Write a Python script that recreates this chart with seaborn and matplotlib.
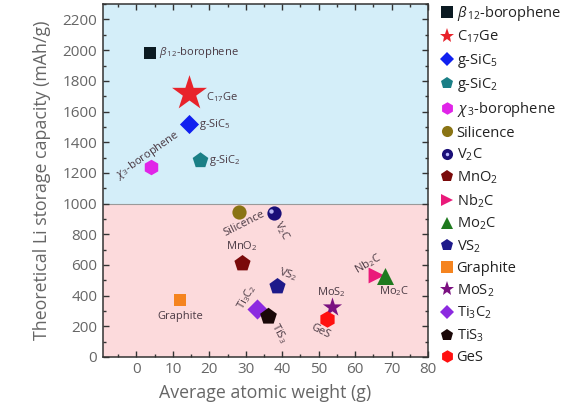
import matplotlib
matplotlib.use("Agg")
import matplotlib.pyplot as plt
import matplotlib.transforms as mtransforms
from matplotlib.lines import Line2D
from matplotlib.legend_handler import HandlerTuple
from matplotlib.ticker import MultipleLocator
import seaborn as sns
import pandas as pd

# Materials: average atomic weight (g) and theoretical Li storage capacity (mAh/g)
names = ["β12-borophene", "C17Ge", "g-SiC5", "g-SiC2", "χ3-borophene", "Silicence",
         "V2C", "MnO2", "Nb2C", "Mo2C", "VS2", "Graphite", "MoS2", "Ti3C2", "TiS3", "GeS"]
legend_labels = [r"$\mathit{\beta}_{\,12}$-borophene", r"C$_{17}$Ge", r"g-SiC$_5$", r"g-SiC$_2$",
                 r"$\mathit{\chi}_{\,3}$-borophene", "Silicence", r"V$_2$C", r"MnO$_2$",
                 r"Nb$_2$C", r"Mo$_2$C", r"VS$_2$", "Graphite", r"MoS$_2$", r"Ti$_3$C$_2$",
                 r"TiS$_3$", "GeS"]
atomic_weight = [3.8, 14.5, 14.4, 17.3, 3.9, 28.0, 37.6, 28.9, 65.7, 68.1, 38.5, 11.9,
                 53.6, 33.2, 36.0, 52.2]
capacity = [1984, 1724, 1516, 1282, 1236, 943, 937, 612, 534, 527, 462, 372,
            325, 312, 267, 247]

markers = ["s", "*", "D", "p", "h", "o", "o", "p", ">", "^", "p", "s", "*", "D", "p", "h"]
colors = ["#0b1a22", "#e8232b", "#1020f0", "#1a7f86", "#e024e8", "#8a7414", "#1a0f78",
          "#7a0a0a", "#ea1a7a", "#1f7a1f", "#1e1a8a", "#f5841f", "#7a1080", "#8c2ae0",
          "#1a0808", "#ff1010"]
sizes = [80, 700, 95, 140, 125, 105, 105, 150, 130, 150, 150, 80, 210, 105, 160, 140]

df = pd.DataFrame({"material": names, "weight": atomic_weight, "capacity": capacity})

sns.set_style("ticks")
plt.rcParams["font.family"] = ["Open Sans", "DejaVu Sans"]
plt.rcParams["mathtext.fontset"] = "custom"
plt.rcParams["mathtext.rm"] = "Open Sans"
plt.rcParams["mathtext.it"] = "Open Sans:italic"

fig = plt.figure(figsize=(5.88, 4.16), dpi=100)
ax = fig.add_axes([0.175, 0.142, 0.553, 0.848])

ax.axhspan(0, 1000, color="#fcdadc", zorder=0, lw=0)
ax.axhspan(1000, 2300, color="#d4eef9", zorder=0, lw=0)
ax.axhline(1000, color="#9a9a9a", lw=0.8, zorder=0.5)

for i, row in df.iterrows():
    sns.scatterplot(x=[row.weight], y=[row.capacity], marker=markers[i], color=colors[i],
                    s=sizes[i], linewidth=0, ax=ax, zorder=3, legend=False)

# specular highlight on the V2C sphere
v = names.index("V2C")
hl = ax.transData + mtransforms.ScaledTranslation(-1.8 / 72, 1.8 / 72, fig.dpi_scale_trans)
ax.scatter([atomic_weight[v]], [capacity[v]], s=10, color="#c8c8ff", alpha=0.9,
           linewidths=0, zorder=4, transform=hl)

ax.set_xlim(-9.2, 80)
ax.set_ylim(0, 2300)
ax.xaxis.set_major_locator(MultipleLocator(10))
ax.xaxis.set_minor_locator(MultipleLocator(5))
ax.yaxis.set_major_locator(MultipleLocator(200))
ax.yaxis.set_minor_locator(MultipleLocator(100))
ax.tick_params(which="both", direction="in", top=True, right=True, color="#333333",
               labelcolor="#666666", labelsize=11, width=1.0)
ax.tick_params(which="major", length=4, pad=4)
ax.tick_params(which="minor", length=2.5)
ax.set_xticks(range(0, 81, 10))
for sp in ax.spines.values():
    sp.set_color("#333333")
    sp.set_linewidth(1.1)

ax.set_xlabel("Average atomic weight (g)", fontsize=12.8, color="#666666", labelpad=5)
ax.set_ylabel("Theoretical Li storage capacity (mAh/g)", fontsize=12.8, color="#666666",
              labelpad=8)

# point annotations: (material, text, dx, dy in points, rotation, ha, va)
tc = "#4a3a44"
notes = [
    ("β12-borophene", r"$\mathit{\beta}_{\,12}$-borophene", 6, 0, 0, "left", "center"),
    ("C17Ge", r"C$_{17}$Ge", 12, -3, 0, "left", "center"),
    ("g-SiC5", r"g-SiC$_5$", 7, 0, 0, "left", "center"),
    ("g-SiC2", r"g-SiC$_2$", 7, 0, 0, "left", "center"),
    ("χ3-borophene", r"$\mathit{\chi}_{\,3}$-borophene", 20, 24, 35, "right", "center"),
    ("Silicence", "Silicence", 17, 3, 27, "right", "top"),
    ("V2C", r"V$_2$C", 7, -4, -62, "left", "top"),
    ("MnO2", r"MnO$_2$", 0, 7, 0, "center", "bottom"),
    ("VS2", r"VS$_2$", 0, 6, -18, "left", "bottom"),
    ("Ti3C2", r"Ti$_3$C$_2$", -8, -2, 60, "left", "bottom"),
    ("TiS3", r"TiS$_3$", 9, -3, -62, "left", "top"),
    ("Graphite", "Graphite", 0, -8, 0, "center", "top"),
    ("MoS2", r"MoS$_2$", 0, 6, 0, "center", "bottom"),
    ("GeS", r"GeS", 4, -9, -27, "right", "top"),
    ("Nb2C", r"Nb$_2$C", 6, 9, 30, "right", "bottom"),
    ("Mo2C", r"Mo$_2$C", -4, -6, 0, "left", "top"),
]
for name, txt, dx, dy, rot, ha, va in notes:
    j = names.index(name)
    ax.annotate(txt, (atomic_weight[j], capacity[j]), xytext=(dx, dy),
                textcoords="offset points", fontsize=8, color=tc, rotation=rot,
                ha=ha, va=va, rotation_mode="anchor", zorder=5)

# legend outside the axes
handles = []
for i in range(len(names)):
    ms = 8
    if markers[i] == "*":
        ms = 11
    elif markers[i] == "D":
        ms = 7
    elif markers[i] in ("p", "h", "^", ">"):
        ms = 9
    h = Line2D([], [], ls="", marker=markers[i], color=colors[i], markersize=ms, mew=0)
    if names[i] == "V2C":
        h = (h, Line2D([], [], ls="", marker="o", color="#b8b8ff", markersize=2.5, mew=0))
    handles.append(h)
fig.legend(handles, legend_labels, loc="upper left", bbox_to_anchor=(0.738, 1.005),
           frameon=False, fontsize=10.5, labelspacing=0.43, handlelength=1.0,
           handletextpad=0.15, borderaxespad=0, labelcolor="#222222",
           handler_map={tuple: HandlerTuple(ndivide=1, pad=0)})

fig.savefig("out.png", dpi=100)
